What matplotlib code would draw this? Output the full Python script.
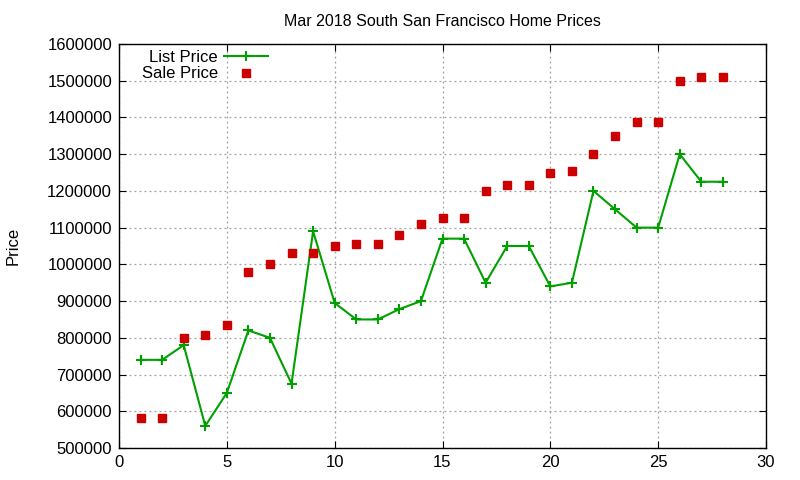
import matplotlib
matplotlib.use("Agg")
import matplotlib.pyplot as plt

# =========================================================
# data
# =========================================================
days = list(range(1, 29))
list_price = [740000, 740000, 780000, 560000, 650000, 820000, 800000, 675000,
              1090000, 895000, 850000, 850000, 878000, 900000, 1070000, 1070000,
              950000, 1050000, 1050000, 940000, 950000, 1200000, 1150000,
              1100000, 1100000, 1300000, 1225000, 1225000]
sale_price = [583000, 583000, 800000, 808000, 835000, 980000, 1000000, 1030000,
              1030000, 1050000, 1055000, 1055000, 1080000, 1110000, 1127000,
              1127000, 1200000, 1215000, 1215000, 1248000, 1253000, 1300000,
              1350000, 1388000, 1388000, 1500000, 1510000, 1510000]
x_ticks = [0, 5, 10, 15, 20, 25, 30]
y_ticks = list(range(500000, 1600001, 100000))

# =========================================================
# plotting
# =========================================================
plt.rcParams['font.family'] = ['Liberation Sans', 'DejaVu Sans']

fig = plt.figure(figsize=(8, 4.8), dpi=100)
ax = fig.add_axes([0.14875, 0.0667, 0.80875, 0.8416])

ax.plot(days, list_price, color='#00a000', linewidth=1.5, marker='+',
        markersize=7, markeredgewidth=1.5, label='List Price')
ax.plot(days, sale_price, linestyle='none', marker='s', markersize=6,
        color='#cc0000', label='Sale Price')

ax.set_xlim(0, 30)
ax.set_ylim(500000, 1600000)
ax.set_xticks(x_ticks)
ax.set_yticks(y_ticks)
ax.set_yticklabels([str(v) for v in y_ticks])
ax.tick_params(direction='in', top=True, right=True, length=5,
               labelsize=12, pad=5)
ax.grid(True, color='#a0a0a0', linestyle=(0, (1.5, 2.5)), linewidth=0.9)
for s in ax.spines.values():
    s.set_linewidth(1.0)

ax.set_title("Mar 2018 South San Francisco Home Prices", fontsize=11.5, pad=13)
ax.set_ylabel("Price", fontsize=12, labelpad=19)

leg = ax.legend(loc='upper left', bbox_to_anchor=(0.035, 0.985), frameon=False,
                markerfirst=False, fontsize=12, handlelength=2.6,
                borderaxespad=0.0, borderpad=0.0, labelspacing=0.08,
                handletextpad=0.4)
for t in leg.get_texts():
    t.set_ha('right')
leg._legend_box.align = 'right'

fig.savefig('out.png', dpi=100)
